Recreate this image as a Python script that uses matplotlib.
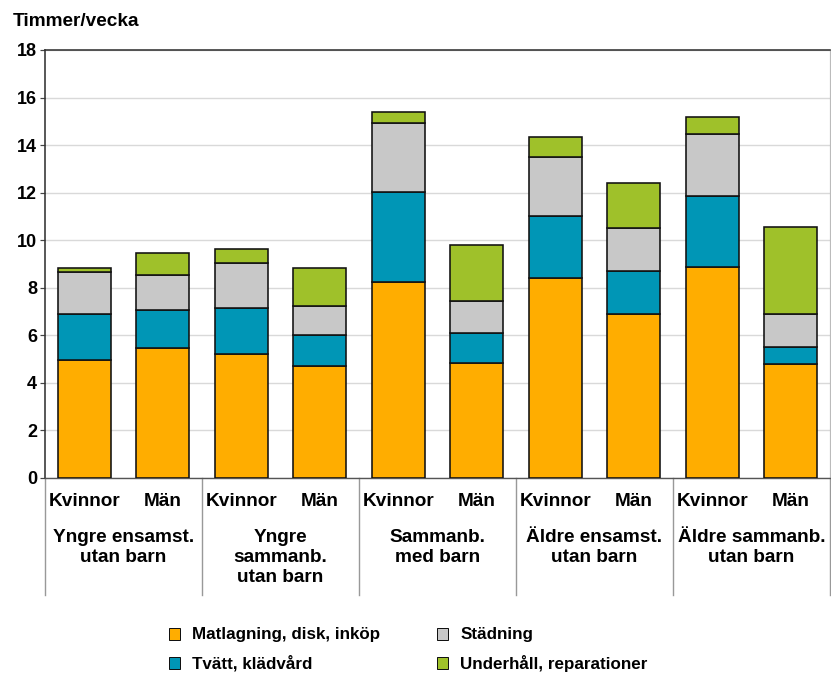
import matplotlib
matplotlib.use("Agg")
import matplotlib.pyplot as plt
import numpy as np

# Hours per week spent on household work, by household type and sex
sexes = ["Kvinnor", "Män"] * 5
groups = ["Yngre ensamst.\nutan barn", "Yngre\nsammanb.\nutan barn",
          "Sammanb.\nmed barn", "Äldre ensamst.\nutan barn", "Äldre sammanb.\nutan barn"]

matlagning = [4.95, 5.45, 5.20, 4.70, 8.25, 4.85, 8.40, 6.88, 8.88, 4.78]
tvatt      = [1.95, 1.60, 1.93, 1.30, 3.78, 1.23, 2.60, 1.84, 2.97, 0.74]
stadning   = [1.75, 1.50, 1.92, 1.22, 2.88, 1.38, 2.50, 1.78, 2.63, 1.38]
underhall  = [0.20, 0.90, 0.60, 1.60, 0.47, 2.34, 0.85, 1.92, 0.70, 3.67]

series = [
    ("Matlagning, disk, inköp", matlagning, "#FFAD00"),
    ("Tvätt, klädvård", tvatt, "#0096B6"),
    ("Städning", stadning, "#C8C8C8"),
    ("Underhåll, reparationer", underhall, "#9FC12A"),
]

plt.rcParams["font.family"] = ["Liberation Sans", "DejaVu Sans"]

DPI = 72
W, H = 831, 676
fig = plt.figure(figsize=(W / DPI, H / DPI), dpi=DPI)
ax_left, ax_right, ax_top, ax_bottom = 45, 830, 50, 478
ax = fig.add_axes([ax_left / W, (H - ax_bottom) / H,
                   (ax_right - ax_left) / W, (ax_bottom - ax_top) / H])

x = np.arange(len(sexes))
bottom = np.zeros(len(sexes))
handles = []
for label, vals, color in series:
    b = ax.bar(x, vals, width=0.67, bottom=bottom, color=color,
               edgecolor="#111111", linewidth=1.6, label=label, zorder=3)
    handles.append(b)
    bottom += np.array(vals)

ax.set_xlim(-0.5, len(sexes) - 0.5)
ax.set_ylim(0, 18)
ax.set_yticks(np.arange(0, 19, 2))
ax.tick_params(axis="y", labelsize=18, length=5, width=1.2, color="#444444", pad=3)
for t in ax.get_yticklabels():
    t.set_fontweight("bold")
ax.set_xticks([])
ax.yaxis.grid(True, color="#D9D9D9", linewidth=1.4, zorder=0)
ax.set_axisbelow(True)

for side in ["left", "top"]:
    ax.spines[side].set_color("#333333")
    ax.spines[side].set_linewidth(1.6)
ax.spines["bottom"].set_color("#555555")
ax.spines["bottom"].set_linewidth(1.4)
ax.spines["right"].set_color("#BBBBBB")
ax.spines["right"].set_linewidth(1.2)

axh = ax_bottom - ax_top
trans = ax.get_xaxis_transform()

# Sex labels under each bar
for xi, s in zip(x, sexes):
    ax.text(xi, -(502 - ax_bottom) / axh, s, transform=trans, ha="center",
            va="center", fontsize=19, fontweight="bold")

# Household-type labels under each pair
for gi, g in enumerate(groups):
    ax.text(2 * gi + 0.5, -(529 - ax_bottom) / axh, g, transform=trans,
            ha="center", va="top", fontsize=19, fontweight="bold",
            linespacing=1.22)

# Separator lines between groups
for xb in np.arange(-0.5, len(sexes), 2):
    ax.plot([xb, xb], [0, -(595 - ax_bottom) / axh], transform=trans,
            color="#999999", linewidth=1.4, clip_on=False)

fig.text(13 / W, 1 - 22 / H, "Timmer/vecka", fontsize=19, fontweight="bold",
         ha="left", va="center")

leg = fig.legend(handles, [h.get_label() for h in handles], ncol=2,
                 loc="upper left", bbox_to_anchor=(160 / W, 1 - 619 / H),
                 frameon=False, handlelength=0.7, handleheight=0.7,
                 handletextpad=0.7, columnspacing=3.3, labelspacing=0.75,
                 borderpad=0, prop={"weight": "bold", "size": 17})
for h in leg.legend_handles:
    h.set_linewidth(1.0)

fig.savefig("out.png", dpi=DPI)
